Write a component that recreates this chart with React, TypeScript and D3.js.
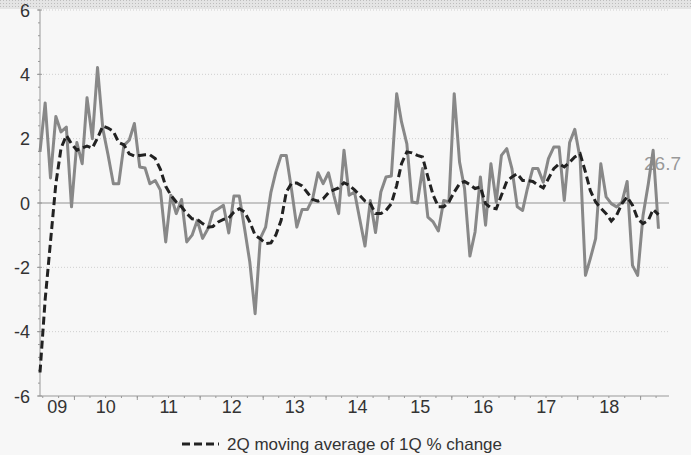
import React from "react";
import * as d3 from "d3";

// monthly series, first point = Jun 2009
const startMonth = new Date(2009, 5, 15);

const qoqChange = [
  1.59, 3.11, 0.78, 2.69, 2.21, 2.36, -0.12, 1.88, 1.22, 3.27, 2.0, 4.21,
  2.3, 1.5, 0.6, 0.6, 1.79, 1.95, 2.47, 1.12, 1.09, 0.6, 0.7, 0.4,
  -1.21, 0.24, -0.33, 0.11, -1.21, -1.0, -0.54, -1.1, -0.8, -0.28, -0.18, -0.07,
  -0.93, 0.22, 0.22, -0.8, -1.83, -3.44, -1.1, -0.75, 0.34, 0.96, 1.48, 1.48,
  0.4, -0.75, -0.2, -0.2, 0.13, 0.94, 0.6, 0.94, 0.24, -0.33, 1.64, 0.24,
  0.34, -0.49, -1.34, 0.08, -0.92, 0.34, 0.81, 0.84, 3.4, 2.52, 1.84, 0.03,
  0.0, 1.07, -0.44, -0.59, -0.87, 0.08, 0.03, 3.4, 1.27, 0.45, -1.65, -0.9,
  0.81, -0.69, 1.22, 0.03, 1.48, 1.69, 1.07, -0.12, -0.23, 0.45, 1.07, 1.07,
  0.65, 1.38, 1.74, 1.74, 0.08, 1.88, 2.29, 1.38, -2.25, -1.73, -1.11, 1.22,
  0.19, -0.02, -0.12, 0.03, 0.67, -1.94, -2.25, -0.4, 0.6, 1.64, -0.8,
];

const movingAvg2Q = [
  -5.27, -3.0, -1.2, 0.6, 1.7, 2.1, 1.84, 1.64, 1.71, 1.77, 1.71, 2.02,
  2.39, 2.33, 2.23, 1.88, 1.81, 1.53, 1.46, 1.48, 1.5, 1.5, 1.38, 1.05,
  0.52, 0.24, 0.03, -0.12, -0.33, -0.49, -0.51, -0.64, -0.75, -0.73, -0.59, -0.51,
  -0.47, -0.28, -0.18, -0.28, -0.59, -1.0, -1.11, -1.26, -1.24, -1.0, -0.54, 0.34,
  0.62, 0.62, 0.53, 0.32, 0.11, 0.06, 0.13, 0.32, 0.41, 0.47, 0.63, 0.55,
  0.41, 0.24, 0.06, -0.02, -0.33, -0.33, -0.23, -0.02, 0.55, 1.22, 1.59, 1.56,
  1.48, 1.43, 0.81, 0.24, -0.12, -0.12, 0.03, 0.34, 0.6, 0.67, 0.57, 0.45,
  0.5, -0.02, -0.15, -0.18, 0.24, 0.67, 0.81, 0.91, 0.7, 0.7, 0.67, 0.56,
  0.47, 0.76, 1.07, 1.22, 1.12, 1.27, 1.43, 1.53, 0.96, 0.39, 0.03, -0.16,
  -0.33, -0.56, -0.38, -0.02, 0.19, -0.07, -0.49, -0.64, -0.54, -0.2, -0.36,
];

const yearLabels = ["09", "10", "11", "12", "13", "14", "15", "16", "17", "18"];
const yTicks = [-6, -4, -2, 0, 2, 4, 6];
const legendLabel = "2Q moving average of 1Q % change";
const annotation = "26.7";

const W = 691;
const H = 455;
const font = "'Liberation Sans', Arial, sans-serif";

export default function App() {
  const x = d3
    .scaleTime()
    .domain([new Date(2009, 5, 15), new Date(2019, 5, 15)])
    .range([40, 669]);
  const y = d3.scaleLinear().domain([-6, 6]).range([396, 10]);

  const date = (i: number) => d3.timeMonth.offset(startMonth, i);

  const line = d3
    .line<number>()
    .x((_, i) => x(date(i)))
    .y((d) => y(d));

  const [x0, x1] = x.range();
  const [d0, d1] = x.domain();
  const yearStarts = d3.timeYear.range(d0, d1);
  const quarters = d3.timeMonth.every(3)!.range(d0, d1);
  const minorY = d3.range(-6, 6.01, 0.4);

  // labels centred on the visible part of each year
  const labelPos = yearLabels.map((lab) => {
    const yr = 2000 + +lab;
    const a = Math.max(x(new Date(yr, 0, 1)), x0);
    const b = Math.min(x(new Date(yr + 1, 0, 1)), x1);
    return { lab, cx: (a + b) / 2 };
  });

  return (
    <svg
      width={W}
      height={H}
      style={{ position: "fixed", left: 0, top: 0, display: "block" }}
      fontFamily={font}
    >
      <defs>
        <pattern id="hatch" width="3" height="3" patternUnits="userSpaceOnUse">
          <rect width="3" height="3" fill="#e4e4e4" />
          <rect width="1" height="1" fill="#bdbdbd" />
        </pattern>
      </defs>
      <rect width={W} height={H} fill="#f7f7f7" />
      <rect width={W} height={9} fill="url(#hatch)" />

      {/* grid */}
      {yTicks
        .filter((t) => t !== 0 && t !== -6)
        .map((t) => (
          <line
            key={t}
            x1={x0}
            x2={x1}
            y1={y(t)}
            y2={y(t)}
            stroke="#cfcfcf"
            strokeDasharray="1,2"
          />
        ))}
      <line x1={x0} x2={x1} y1={y(0)} y2={y(0)} stroke="#b5b5b5" strokeWidth={1.5} />

      {/* y axis */}
      <line x1={x0} x2={x0} y1={y(6)} y2={y(-6)} stroke="#999" />
      {minorY.map((t, i) => (
        <line key={i} x1={x0 - 2} x2={x0} y1={y(t)} y2={y(t)} stroke="#999" />
      ))}
      {yTicks.map((t) => (
        <g key={t}>
          <line x1={x0 - 3} x2={x0 + 2} y1={y(t)} y2={y(t)} stroke="#999" />
          <text x={30} y={y(t) + 6.5} textAnchor="end" fontSize={18} fill="#333">
            {t}
          </text>
        </g>
      ))}

      {/* x axis */}
      <line x1={x0} x2={x1} y1={y(-6)} y2={y(-6)} stroke="#999" />
      {quarters.map((q, i) => (
        <line key={i} x1={x(q)} x2={x(q)} y1={y(-6)} y2={y(-6) + 2} stroke="#999" />
      ))}
      {yearStarts.map((q, i) => (
        <line key={i} x1={x(q)} x2={x(q)} y1={y(-6)} y2={y(-6) + 4} stroke="#999" />
      ))}
      {labelPos.map((l) => (
        <text key={l.lab} x={l.cx} y={413} textAnchor="middle" fontSize={18} fill="#333">
          {l.lab}
        </text>
      ))}

      <text x={681} y={170} textAnchor="end" fontSize={19} fill="#999">
        {annotation}
      </text>

      {/* series */}
      <path
        d={line(qoqChange) ?? ""}
        fill="none"
        stroke="#888"
        strokeWidth={3}
        strokeLinejoin="round"
      />
      <path
        d={line(movingAvg2Q) ?? ""}
        fill="none"
        stroke="#222"
        strokeWidth={3}
        strokeDasharray="8,4"
      />

      {/* legend */}
      <line x1={182} x2={219} y1={444} y2={444} stroke="#222" strokeWidth={3} strokeDasharray="8,4" />
      <text x={227} y={450} fontSize={17} fill="#333">
        {legendLabel}
      </text>
    </svg>
  );
}
